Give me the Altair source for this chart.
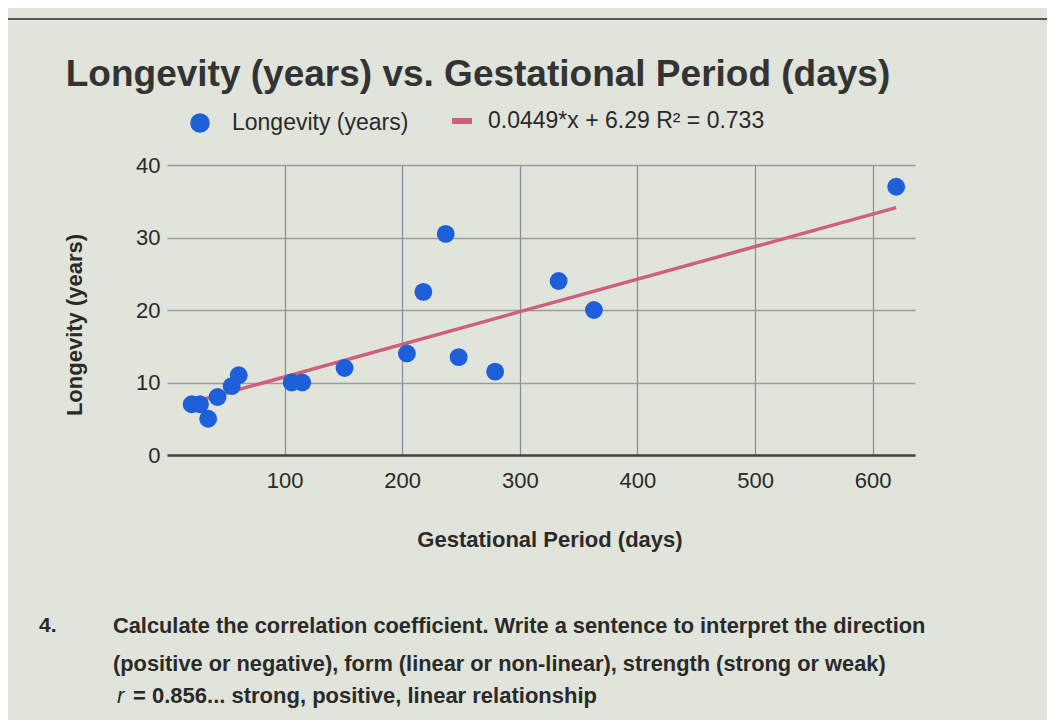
import altair as alt
import pandas as pd

# ---- data ----
gestation = [21, 28, 35, 43, 55, 61, 106, 115, 151, 204, 218, 237, 248, 279, 333, 363, 620]
longevity = [7, 7, 5, 8, 9.5, 11, 10, 10, 12, 14, 22.5, 30.5, 13.5, 11.5, 24, 20, 37]
slope = 0.0449
intercept = 6.29
x_ticks = [100, 200, 300, 400, 500, 600]
y_ticks = [0, 10, 20, 30, 40]

title_text = "Longevity (years) vs. Gestational Period (days)"
series_name = "Longevity (years)"
trend_label = "0.0449*x + 6.29 R\u00b2 = 0.733"
x_title = "Gestational Period (days)"
y_title = "Longevity (years)"
q_number = "4."
q_lines = [
    "Calculate the correlation coefficient.  Write a sentence to interpret the direction",
    "(positive or negative), form (linear or non-linear), strength (strong or weak)",
]
answer_line = "= 0.856... strong, positive, linear relationship"

FONT = "Liberation Sans"
BG = "#e0e4da"
BLUE = "#1d5fd8"
RED = "#cf6079"
TXT = "#2a2a2a"

pts = pd.DataFrame({"g": gestation, "l": longevity})
tx = [min(gestation), max(gestation)]
trend = pd.DataFrame({"g": tx, "l": [slope * v + intercept for v in tx]})

xs = alt.Scale(domain=[0, 636], nice=False, zero=False)
ys = alt.Scale(domain=[0, 40], nice=False)

xaxis = alt.Axis(values=x_ticks, title=None, grid=True, gridColor="#7f8ba0", gridWidth=1.2,
                 domainColor="#444444", domainWidth=2.5, ticks=False, labelPadding=15,
                 labelFontSize=22, labelColor=TXT, labelFont=FONT)
yaxis = alt.Axis(values=y_ticks, title=None, grid=True, gridColor="#9c9c9c", gridWidth=1.5,
                 domain=False, ticks=False, labelPadding=7, labelFontSize=22,
                 labelColor=TXT, labelFont=FONT)

points = alt.Chart(pts).mark_circle(size=320, color=BLUE, opacity=1).encode(
    x=alt.X("g:Q", scale=xs, axis=xaxis),
    y=alt.Y("l:Q", scale=ys, axis=yaxis),
)
line = alt.Chart(trend).mark_line(color=RED, strokeWidth=3.5).encode(
    x=alt.X("g:Q", scale=xs), y=alt.Y("l:Q", scale=ys)
)


def txt(s, x, y, size=17, weight="normal", align="left", angle=0, color=TXT, style="normal"):
    kw = dict(fontSize=size, fontWeight=weight, align=align, font=FONT, color=color,
              baseline="middle", fontStyle=style)
    if angle:
        kw["angle"] = angle
    return alt.Chart(pd.DataFrame({"t": [s]})).mark_text(**kw).encode(
        text="t:N", x=alt.value(x), y=alt.value(y))


one = pd.DataFrame({"a": [0]})
legend_dot = alt.Chart(one).mark_circle(size=380, color=BLUE, opacity=1).encode(
    x=alt.value(33), y=alt.value(-42))
legend_line = alt.Chart(one).mark_rule(color=RED, strokeWidth=6).encode(
    x=alt.value(285), x2=alt.value(305), y=alt.value(-44))
ruler = alt.Chart(one).mark_rule(color="#555555", strokeWidth=2).encode(
    x=alt.value(-159), x2=alt.value(880), y=alt.value(-146))

layers = [
    ruler,
    line, points,
    txt(title_text, 311, -90, size=37, weight="bold", align="center", color="#333333"),
    legend_dot, legend_line,
    txt(series_name, 65, -42, size=23),
    txt(trend_label, 321, -44, size=23),
    txt(y_title, -92, 160, size=22, weight="bold", align="center", angle=270),
    txt(x_title, 383, 375, size=22, weight="bold", align="center"),
    txt(q_number, -128, 461, size=21, weight="bold"),
    txt(q_lines[0], -54, 461, size=21.8, weight="bold"),
    txt(q_lines[1], -54, 499, size=21.8, weight="bold"),
    txt("r", -50, 531, size=22, style="italic"),
    txt(answer_line, -34, 531, size=22, weight="bold"),
]

chart = alt.layer(*layers).properties(
    width=748, height=290,
    padding={"left": 159, "top": 157, "right": 132, "bottom": 265},
    autosize=alt.AutoSizeParams(type="none"),
    background=BG,
).configure_view(stroke=None)

chart.save("out.html", embed_options={"renderer": "svg", "actions": False})
